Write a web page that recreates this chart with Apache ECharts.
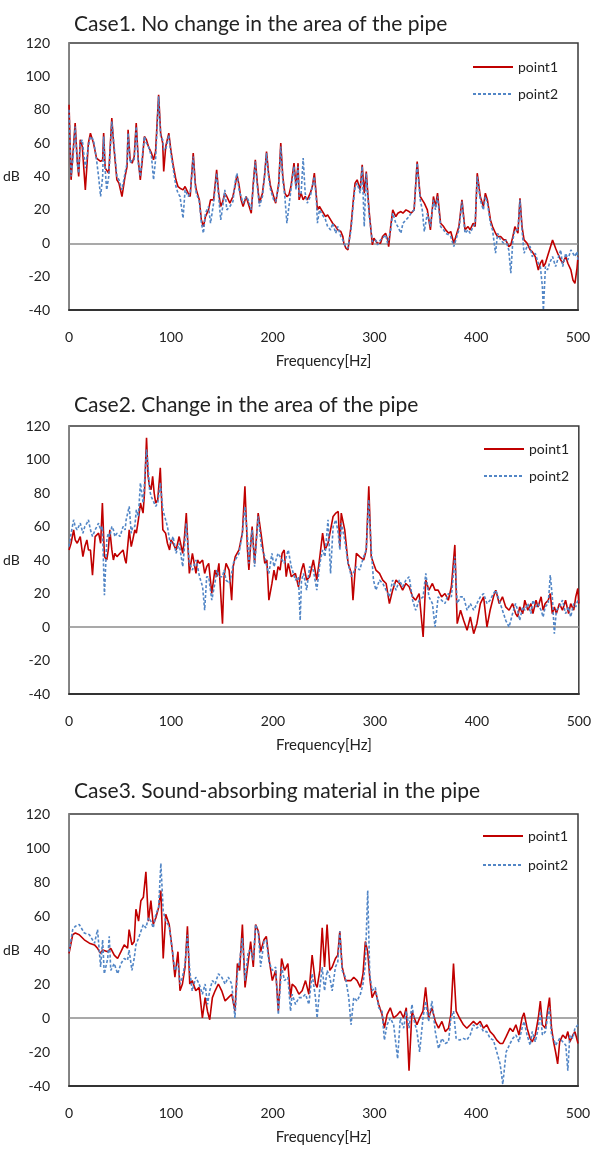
<!DOCTYPE html>
<html>
<head>
<meta charset="utf-8">
<script src="https://cdn.jsdelivr.net/npm/echarts/dist/echarts.min.js"></script>
<style>
  html, body { margin: 0; padding: 0; background: #fff; }
  #main { width: 594px; height: 1149px; }
</style>
</head>
<body>
<div id="main"></div>
<script>
// chart titles and axis ticks
const caseTitles = [
    'Case1. No change in the area of the pipe',
    'Case2. Change in the area of the pipe',
    'Case3. Sound-absorbing material in the pipe'
];
const dbMin = -40, dbMax = 120, dbStep = 20;
const hzMin = 0, hzMax = 500, hzStep = 100;

// Case1 - frequency [Hz], point1 / point2 [dB]
const freq1 = [
    0, 2, 4, 6, 8, 9.5, 11, 13, 16, 19,
    21, 24, 27, 29, 31, 33, 34, 35.5, 37, 39,
    42, 44, 47, 49, 52, 55, 57, 58, 60, 62,
    64, 66, 68, 70, 72, 74, 76, 78, 81, 83,
    85, 88, 90, 92, 93, 95, 98, 100, 102, 105,
    107, 109, 112, 114, 117, 119, 122, 124, 125, 128,
    130, 132, 134, 137, 139, 142, 145, 147, 149, 151,
    153, 155, 158, 161, 163, 165, 167, 169, 171, 174,
    176, 179, 181, 183, 185, 187, 190, 192, 194, 196,
    198, 201, 203, 206, 208, 210, 212, 214, 216, 218,
    221, 223, 225, 226, 228, 230, 232, 234, 237, 239,
    241, 243, 244, 246, 248, 250, 252, 254, 257, 259,
    262, 264, 267, 269, 270, 272, 274, 277, 279, 281,
    283, 286, 288, 290, 292, 293.5, 295, 298, 299.5, 301,
    303, 306, 308, 311, 313, 314, 316, 318, 321, 323,
    326, 328, 331, 334, 336, 339, 342, 345, 347, 349,
    352, 355, 358, 360, 362, 365, 368, 370, 373, 375,
    378, 381, 383, 386, 389, 392, 394, 397, 399, 401,
    404, 407, 409, 411, 414, 416, 419, 421, 424, 427,
    429, 432, 434, 436, 438, 441, 443, 445, 447, 450,
    453, 455, 458, 461, 463, 465, 466, 468, 470, 472,
    475, 478, 480, 483, 485, 488, 490, 493, 495, 497,
    499, 500
];
const case1Point1 = [
    83, 38, 55, 72, 50, 40, 62, 58, 32, 60,
    66, 60, 51, 50, 49, 50, 66, 45, 44, 42,
    75, 58, 38, 36, 28, 40, 46, 68, 50, 48,
    52, 72, 50, 38, 50, 64, 62, 58, 54, 50,
    55, 89, 66, 60, 43, 58, 66, 56, 48, 38,
    34, 33, 32, 34, 30, 28, 54, 36, 32, 26,
    14, 10, 16, 20, 26, 26, 44, 30, 22, 25,
    30, 28, 24, 28, 34, 41, 35, 26, 22, 28,
    24, 18, 36, 50, 36, 24, 30, 40, 55, 42,
    34, 28, 24, 36, 60, 40, 30, 28, 29, 34,
    48, 34, 48, 26, 30, 26, 28, 26, 30, 34,
    42, 28, 20, 22, 20, 18, 16, 17, 14, 12,
    10, 8, 7, 4, 0, -3, -4, 10, 24, 36,
    38, 32, 47, 30, 43, 30, 18, -1, 3, 4,
    0, 0, 4, 6, 2, -2, 10, 20, 16, 18,
    19, 18, 20, 19, 18, 20, 49, 28, 26, 24,
    20, 8, 28, 22, 30, 12, 10, 8, 6, 7,
    0, 6, 10, 26, 8, 10, 8, 12, 10, 42,
    28, 22, 30, 26, 14, 10, 6, 4, 4, 2,
    2, -2, -1, 4, 10, 6, 27, 10, 2, 0,
    -4, -5, -8, -16, -12, -10, -14, -12, -8, -4,
    2, -3, -6, -10, -12, -8, -12, -16, -22, -24,
    -15, -8
];
const case1Point2 = [
    80, 40, 52, 70, 48, 42, 60, 62, 45, 58,
    64, 62, 50, 40, 28, 40, 64, 44, 32, 40,
    73, 60, 40, 38, 32, 42, 48, 66, 48, 50,
    50, 70, 48, 40, 52, 64, 60, 58, 52, 38,
    50, 88, 64, 62, 56, 56, 65, 54, 46, 34,
    30, 28, 15, 32, 28, 30, 52, 34, 30, 25,
    12, 6, 18, 22, 12, 24, 42, 28, 14, 22,
    32, 20, 22, 25, 36, 42, 32, 28, 24, 28,
    26, 20, 34, 49, 34, 22, 28, 40, 54, 40,
    32, 26, 25, 34, 58, 38, 28, 12, 22, 32,
    46, 32, 46, 28, 30, 51, 30, 24, 28, 34,
    40, 26, 12, 20, 18, 16, 14, 10, 8, 12,
    6, 10, 4, 2, 0, -2, -3, 8, 22, 34,
    36, 30, 46, 10, 42, 28, 16, 1, 0, 2,
    -1, 2, 3, 5, 0, -1, 8, 18, 12, 10,
    6, 12, 14, 16, 18, 20, 48, 26, 20, 7,
    18, 10, 26, 20, 28, 10, 8, 6, 5, 4,
    -2, 4, 8, 25, 6, 8, 6, 10, 12, 40,
    26, 20, 28, 24, 12, 8, -6, 6, 2, 0,
    2, -4, -18, 2, 8, 8, 26, 8, -6, -2,
    -2, -8, -6, -12, -14, -26, -40, -14, -16, -12,
    -8, -14, -10, -4, -14, -6, -10, -4, -6, -8,
    -5, -10
];

// Case2
const freq2 = [
    0, 2, 4.5, 6, 8, 11, 13.6, 15.5, 17.5, 19,
    21, 23, 25.6, 29, 31, 32.7, 34.7, 37, 38.5, 40,
    42, 43.5, 45, 47, 50, 53, 55, 56, 59, 61,
    62.5, 64.5, 66, 68, 70, 72.6, 74, 76, 77.5, 79,
    80.5, 82, 83.5, 85, 87, 89.5, 92, 94.7, 96.5, 98.6,
    100, 102, 105, 108, 111.5, 113, 115, 118, 121, 124.5,
    126, 128, 131, 133, 135, 137, 140, 143, 145, 147,
    150.5, 152, 154, 157, 159.5, 161, 163, 166.7, 170, 172.5,
    175, 176.4, 178, 179.6, 182, 185.5, 188.7, 192, 194, 196,
    199, 201, 203, 205, 207, 209, 211, 213, 215, 218,
    222, 225, 226.7, 228, 230, 233, 236, 239.6, 243, 246,
    248.7, 251, 254, 256.5, 259, 261.7, 264, 265.6, 267, 270.4,
    273.7, 277, 278.5, 281.8, 285, 289, 291.5, 294, 296.4, 298.6,
    301, 304.5, 307.7, 311, 314.2, 317.4, 320.7, 324, 327.2, 330.4,
    333.6, 337, 340, 343.4, 347.3, 349.9, 353, 356.4, 359, 362,
    365.4, 368.7, 372, 375, 378.4, 380.7, 384, 387, 390.4, 393.6,
    396.9, 400, 403.4, 406.6, 409.9, 413, 416.3, 418.6, 421.9, 425.1,
    428.3, 431.6, 435, 438, 440, 442, 445, 447, 450, 453,
    455, 458, 460, 463, 465, 467, 470, 472, 474, 476,
    478, 481, 484, 487, 490, 492, 495, 497, 499, 500
];
const case2Point1 = [
    46, 50, 58, 52, 50, 54, 42, 48, 52, 46,
    46, 31, 54, 56, 50, 74, 42, 40, 46, 58,
    46, 40, 44, 42, 44, 46, 40, 38, 58, 48,
    52, 58, 56, 64, 74, 68, 80, 113, 90, 84,
    82, 90, 80, 74, 76, 95, 58, 56, 50, 46,
    52, 50, 46, 54, 44, 52, 68, 32, 44, 32,
    40, 38, 40, 32, 36, 38, 20, 34, 30, 38,
    2, 30, 38, 34, 16, 36, 42, 46, 56, 84,
    46, 34, 48, 60, 38, 68, 54, 38, 40, 16,
    26, 34, 28, 36, 34, 44, 46, 30, 38, 30,
    32, 24, 30, 34, 38, 28, 30, 40, 28, 42,
    56, 46, 50, 58, 66, 68, 69, 48, 68, 58,
    38, 32, 16, 44, 42, 40, 46, 84, 42, 38,
    34, 32, 28, 26, 14, 22, 28, 26, 22, 26,
    24, 18, 16, 20, -6, 28, 22, 26, 22, 22,
    18, 20, 16, 24, 49, 2, 10, 4, -2, 6,
    -4, 2, 14, 18, 0, 10, 18, 22, 14, 18,
    12, 10, 14, 8, 6, 12, 8, 16, 10, 14,
    8, 16, 12, 18, 10, 14, 16, 20, 8, 12,
    8, 14, 10, 16, 8, 14, 10, 18, 23, 14
];
const case2Point2 = [
    48, 56, 64, 60, 58, 62, 56, 60, 62, 64,
    58, 54, 58, 62, 58, 60, 19, 52, 56, 54,
    60, 58, 54, 56, 54, 60, 58, 64, 72, 56,
    60, 60, 70, 66, 86, 74, 86, 106, 96, 82,
    78, 76, 74, 72, 74, 86, 70, 64, 60, 52,
    50, 54, 44, 50, 36, 46, 62, 38, 34, 40,
    36, 30, 24, 10, 30, 30, 16, 26, 34, 30,
    30, 34, 28, 26, 32, 38, 40, 44, 56, 72,
    54, 38, 50, 58, 36, 66, 48, 42, 36, 32,
    44, 36, 40, 44, 42, 40, 38, 42, 46, 36,
    28, 30, 4, 28, 32, 22, 36, 34, 22, 38,
    46, 42, 64, 32, 60, 64, 56, 46, 62, 52,
    38, 30, 30, 36, 34, 42, 46, 76, 46, 28,
    22, 28, 26, 22, 18, 28, 22, 28, 24, 28,
    30, 16, 10, 16, 18, 32, 18, 14, 0, 18,
    16, 14, 20, 18, 42, 14, 18, 18, 10, 14,
    10, 14, 18, 20, 14, 16, 20, 22, 16, 10,
    4, 0, 8, 14, 10, 4, 12, 10, 14, 8,
    16, 12, 14, 10, 6, 12, 14, 31, 18, -4,
    10, 12, 16, 8, 12, 6, 14, 12, 16, 15
];

// Case3
const freq3 = [
    0, 3.6, 6.2, 10, 15, 20, 25, 28, 31, 33,
    34.6, 38, 39.5, 41, 44.4, 47.7, 51, 54.2, 57.5, 59,
    61.8, 64, 65.7, 68.3, 70.6, 73, 75.5, 78, 80.4, 82.7,
    85.3, 88, 90.2, 92.5, 95, 98.4, 101.6, 104, 107, 109,
    111.4, 114, 116.3, 118.6, 121, 124.5, 127.8, 131, 133.7, 136,
    138.2, 140.8, 143.5, 146.7, 150, 153.3, 156.5, 159.8, 163, 165.4,
    167.6, 170.3, 172.9, 176, 178.4, 181, 183.3, 186, 188.2, 191.5,
    193.8, 196.4, 199.7, 203, 205.6, 208.8, 211.7, 215, 217.6, 219.2,
    222.5, 225.8, 229, 232.3, 235.6, 238.8, 242.1, 243.7, 246.4, 248.7,
    251, 253.5, 256.2, 258.5, 261.7, 264, 266, 268.3, 271.5, 274.8,
    277, 279.7, 283, 286.2, 288.8, 291.1, 293.4, 295.4, 297.7, 300.9,
    304.2, 307.5, 309.8, 312.4, 315.6, 318.9, 322.8, 325.4, 328.7, 331.3,
    334, 336.9, 339.2, 341.8, 344.4, 347.7, 350.3, 353.2, 356.5, 359.8,
    363, 366.3, 369.6, 372.8, 375.1, 377.7, 380.3, 383.6, 387.5, 390.8,
    394.1, 397.3, 400.6, 403.9, 407.1, 410.4, 413.7, 416.9, 420.2, 423.5,
    426.1, 429.4, 433.3, 436, 439, 442, 445, 447, 450, 453,
    455, 458, 461, 463, 465, 468, 470, 472, 474, 476,
    478, 480, 482, 485, 488, 490, 492, 495, 497, 500
];
const case3Point1 = [
    38, 49, 50, 49, 46, 44, 43, 41, 38, 40,
    39, 39, 40, 41, 37, 35, 39, 43, 41, 52,
    43, 45, 64, 57, 69, 71, 86, 57, 69, 55,
    59, 65, 75, 35, 61, 55, 39, 24, 39, 16,
    20, 30, 54, 20, 22, 16, 18, 0, 12, 4,
    -1, 12, 16, 20, 16, 10, 12, 14, 4, 32,
    28, 55, 18, 33, 45, 30, 55, 51, 39, 46,
    48, 35, 22, 28, 4, 35, 28, 32, 12, 20,
    18, 14, 16, 22, 14, 37, 20, 18, 28, 53,
    30, 55, 28, 30, 35, 37, 51, 30, 22, 22,
    22, 24, 22, 18, 26, 45, 39, 24, 12, 16,
    8, 2, -6, 2, 6, 0, 2, 4, 0, 6,
    -31, 4, 0, -4, 0, 4, 18, 0, 6, -2,
    -6, -2, -8, -6, 2, 32, 4, 0, -4, -6,
    -4, -2, -4, -2, -6, -4, -8, -10, -13, -15,
    -15, -11, -6, -8, -4, -10, 0, 3, -6, -12,
    -14, -10, 0, 10, -4, -6, 4, 12, -6, -14,
    -20, -27, -14, -10, -12, -8, -14, -10, -8, -15
];
const case3Point2 = [
    39, 52, 54, 55, 50, 49, 44, 52, 30, 46,
    26, 35, 48, 28, 32, 26, 32, 35, 34, 40,
    28, 35, 43, 47, 51, 55, 53, 59, 57, 53,
    61, 65, 91, 63, 57, 54, 39, 28, 32, 20,
    24, 32, 49, 28, 16, 24, 20, 14, 20, 8,
    16, 22, 20, 26, 24, 20, 24, 20, 0, 26,
    34, 47, 22, 39, 40, 34, 55, 50, 30, 45,
    46, 33, 28, 30, 2, 30, 22, 24, 4, 14,
    8, 12, 12, 14, 8, 26, 12, 0, 18, 30,
    16, 28, 24, 16, 30, 33, 51, 28, 24, 12,
    -4, 12, 10, 14, 20, 32, 75, 26, 16, 18,
    6, 4, -13, -4, 0, -4, -24, 0, -6, 4,
    -6, 8, -2, -8, -20, 0, 10, -2, 10, -8,
    -18, -12, -15, -14, 0, 4, -12, -13, -12, -13,
    -10, -4, -6, -4, -8, -8, -12, -13, -20, -27,
    -39, -20, -15, -12, -10, -14, -6, -2, -10, -16,
    -8, -14, -6, 4, -10, -8, 0, 6, -10, -12,
    -16, -14, -12, -14, -16, -31, -10, -12, -6, -4
];

const cases = [
    { freq: freq1, p1: case1Point1, p2: case1Point2 },
    { freq: freq2, p1: case2Point1, p2: case2Point2 },
    { freq: freq3, p1: case3Point1, p2: case3Point2 }
];

// layout of the three panels
const grids = [
    { left: 67, top: 43, width: 511, height: 267 },
    { left: 67, top: 426, width: 514, height: 268 },
    { left: 68, top: 814, width: 510, height: 272 }
];
const titleTops = [9, 390, 776];
const legendPos = [
    { left: 467, top: 55, gap: 13 },
    { left: 478, top: 437, gap: 13 },
    { left: 477, top: 824, gap: 15 }
];

const font = 'Lato, "Open Sans", sans-serif';
const textColor = '#222';
const redLine = '#c00000';
const blueLine = '#5286c6';
// only the 0 dB line is drawn (ticks: -40, -20, 0, 20 ... 120)
const zeroLineColors = ['rgba(0,0,0,0)', 'rgba(0,0,0,0)', '#8c8c8c',
    'rgba(0,0,0,0)', 'rgba(0,0,0,0)', 'rgba(0,0,0,0)',
    'rgba(0,0,0,0)', 'rgba(0,0,0,0)', 'rgba(0,0,0,0)'];

function pairs(f, v) {
    return f.map(function (x, i) { return [x, v[i]]; });
}

let option = {
    animation: false,
    backgroundColor: '#fff',
    title: [],
    legend: [],
    grid: [],
    xAxis: [],
    yAxis: [],
    series: []
};

cases.forEach(function (c, i) {
    option.title.push({
        text: caseTitles[i],
        left: 69,
        top: titleTops[i],
        textStyle: { fontFamily: font, fontSize: 21, fontWeight: 'normal', color: textColor }
    });
    option.grid.push(Object.assign({
        show: true,
        borderColor: '#3a3a3a',
        borderWidth: 1.5,
        containLabel: false
    }, grids[i]));
    option.legend.push({
        data: ['point1', 'point2'],
        orient: 'vertical',
        left: legendPos[i].left,
        top: legendPos[i].top,
        itemGap: legendPos[i].gap,
        itemWidth: 40,
        itemHeight: 14,
        itemStyle: { opacity: 0 },
        textStyle: { fontFamily: font, fontSize: 14, color: textColor }
    });
    option.xAxis.push({
        type: 'value',
        gridIndex: i,
        min: hzMin,
        max: hzMax,
        interval: hzStep,
        name: 'Frequency[Hz]',
        nameLocation: 'middle',
        nameGap: 44,
        nameTextStyle: { fontFamily: font, fontSize: 15, color: textColor },
        axisLine: { show: true, onZero: false, lineStyle: { color: '#333', width: 2 } },
        axisTick: { show: false },
        axisLabel: { margin: 20, fontFamily: font, fontSize: 14, color: textColor },
        splitLine: { show: false }
    });
    option.yAxis.push({
        type: 'value',
        gridIndex: i,
        min: dbMin,
        max: dbMax,
        interval: dbStep,
        name: 'dB',
        nameLocation: 'middle',
        nameRotate: 0,
        nameGap: 40,
        nameTextStyle: { fontFamily: font, fontSize: 14, color: textColor },
        axisLine: { show: true, lineStyle: { color: '#8c8c8c', width: 1.5 } },
        axisTick: { show: false },
        axisLabel: { margin: 19, fontFamily: font, fontSize: 14, color: textColor },
        splitLine: { show: true, lineStyle: { color: zeroLineColors, width: 1.5 } }
    });
    option.series.push({
        name: 'point1',
        type: 'line',
        xAxisIndex: i,
        yAxisIndex: i,
        symbol: 'none',
        showSymbol: false,
        lineStyle: { color: redLine, width: 1.6 },
        itemStyle: { color: redLine },
        data: pairs(c.freq, c.p1)
    });
    option.series.push({
        name: 'point2',
        type: 'line',
        xAxisIndex: i,
        yAxisIndex: i,
        symbol: 'none',
        showSymbol: false,
        lineStyle: { color: blueLine, width: 1.6, type: [3, 2] },
        itemStyle: { color: blueLine },
        data: pairs(c.freq, c.p2)
    });
});

let myChart = echarts.init(document.getElementById('main'));
myChart.setOption(option);
</script>
</body>
</html>
